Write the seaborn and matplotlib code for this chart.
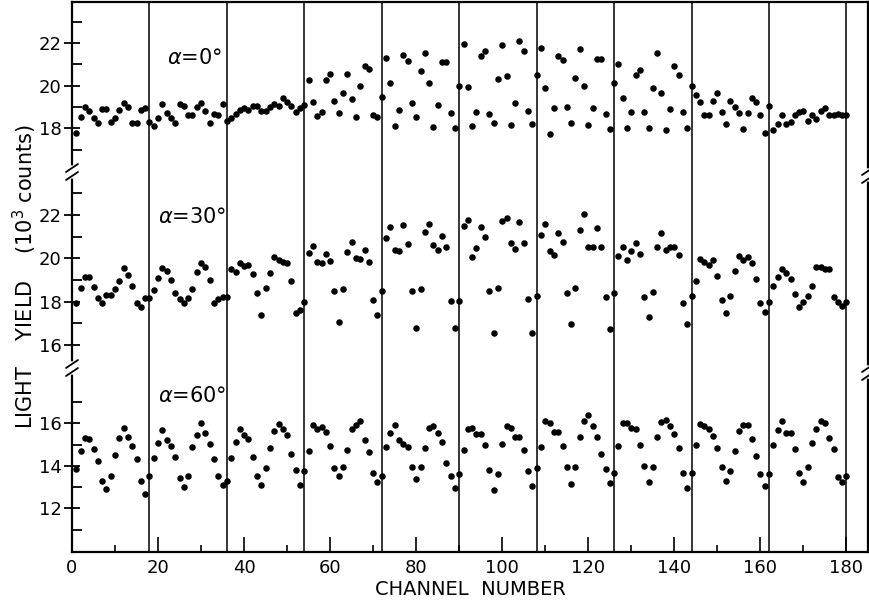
import numpy as np
import matplotlib
matplotlib.use("Agg")
import matplotlib.pyplot as plt
from matplotlib.lines import Line2D
import seaborn as sns

# light yield per channel
channels = np.arange(1, 181)

yield_a0 = [
    17.77, 18.52, 19.0, 18.8, 18.47, 18.23, 18.9, 18.9, 18.3, 18.5,
    18.86, 19.17, 19.0, 18.23, 18.23, 18.86, 18.94, 18.3, 18.1, 18.47,
    19.14, 18.73, 18.5, 18.23, 19.14, 19.05, 18.62, 18.62, 19.0, 19.2,
    18.8, 18.27, 18.65, 18.62, 19.14, 18.36, 18.5, 18.65, 18.86, 18.94,
    18.86, 19.05, 19.05, 18.8, 18.8, 19.0, 19.14, 19.05, 19.4, 19.25,
    19.05, 18.78, 18.94, 19.1, 20.27, 19.25, 18.58, 18.78, 20.27, 20.53,
    19.28, 18.7, 19.64, 20.55, 19.36, 18.55, 20.0, 20.9, 20.77, 18.62,
    18.52, 19.48, 21.3, 20.14, 18.12, 18.86, 21.44, 21.16, 19.17, 18.55,
    20.69, 21.52, 20.14, 18.08, 19.1, 21.12, 21.12, 18.73, 18.0, 19.98,
    21.94, 19.92, 18.12, 18.78, 21.39, 21.62, 18.67, 18.27, 20.3, 21.9,
    20.45, 18.16, 19.17, 22.1, 21.64, 18.83, 18.19, 20.5, 21.75, 19.88,
    17.72, 18.94, 21.4, 21.2, 19.0, 18.27, 20.34, 21.7, 19.98, 18.16,
    18.97, 21.23, 21.23, 18.67, 17.95, 20.14, 21.0, 19.44, 18.0, 18.78,
    20.5, 20.73, 18.78, 18.0, 19.9, 21.52, 19.67, 17.9, 18.9, 20.92,
    20.5, 18.78, 18.0, 19.98, 19.56, 19.25, 18.6, 18.6, 19.3, 19.67,
    18.78, 18.19, 19.28, 18.98, 18.73, 17.97, 18.7, 19.4, 19.22, 18.6,
    17.8, 19.05, 17.9, 18.2, 18.62, 18.19, 18.28, 18.6, 18.78, 18.8,
    18.36, 18.6, 18.44, 18.8, 18.94, 18.62, 18.6, 18.67, 18.6, 18.6,
]

yield_a30 = [
    17.95, 18.62, 19.12, 19.12, 18.66, 18.15, 17.95, 18.3, 18.3, 18.57,
    18.97, 19.54, 19.23, 18.72, 17.92, 17.77, 18.15, 18.15, 18.54, 19.08,
    19.54, 19.4, 19.0, 18.42, 18.1, 17.92, 18.15, 18.57, 19.38, 19.8,
    19.62, 19.0, 17.95, 18.1, 18.23, 18.23, 19.5, 19.38, 19.8, 19.65,
    19.7, 19.26, 18.38, 17.38, 18.62, 19.3, 20.08, 19.92, 19.85, 19.77,
    18.97, 17.49, 17.62, 17.97, 20.23, 20.57, 19.82, 19.8, 20.2, 19.88,
    18.49, 17.08, 18.58, 20.3, 20.74, 20.03, 19.97, 20.38, 19.82, 18.08,
    17.38, 18.49, 20.92, 21.46, 20.38, 20.35, 21.52, 20.66, 18.5, 16.8,
    18.58, 21.23, 21.6, 20.6, 20.38, 21.03, 20.5, 18.03, 16.77, 18.03,
    21.49, 21.77, 20.05, 20.49, 21.43, 21.0, 18.49, 16.57, 18.65, 21.7,
    21.88, 20.7, 20.43, 21.66, 20.72, 18.1, 16.55, 18.26, 21.08, 21.6,
    20.34, 20.15, 21.15, 20.77, 18.42, 16.95, 18.62, 21.3, 22.05, 20.5,
    20.5, 21.42, 20.5, 18.23, 16.74, 18.38, 20.1, 20.5, 19.9, 20.35,
    20.7, 20.2, 18.23, 17.3, 18.46, 20.5, 21.15, 20.38, 20.5, 20.54,
    20.15, 17.92, 16.95, 18.26, 18.97, 19.95, 19.85, 19.69, 19.92, 19.18,
    18.08, 17.49, 18.26, 19.43, 20.12, 19.92, 20.05, 19.77, 19.05, 17.92,
    17.54, 17.97, 18.72, 19.12, 19.49, 19.34, 19.05, 18.35, 17.77, 18.0,
    18.26, 18.72, 19.58, 19.6, 19.5, 19.5, 18.23, 18.0, 17.82, 17.97,
]

yield_a60 = [
    13.84, 14.72, 15.3, 15.25, 14.78, 14.24, 13.31, 12.9, 13.53, 14.52,
    15.3, 15.77, 15.35, 14.94, 14.33, 13.3, 12.68, 13.55, 14.36, 15.07,
    15.69, 15.22, 14.94, 14.44, 13.45, 13.0, 13.55, 14.88, 15.46, 16.0,
    15.54, 15.02, 14.31, 13.55, 13.1, 13.31, 14.36, 15.15, 15.74, 15.46,
    15.27, 14.44, 13.55, 13.1, 13.92, 14.83, 15.66, 15.98, 15.74, 15.46,
    14.56, 13.81, 13.1, 13.78, 14.72, 15.93, 15.73, 15.82, 15.58, 14.96,
    13.92, 13.55, 13.94, 14.75, 15.73, 15.93, 16.13, 15.22, 14.64, 13.69,
    13.26, 13.55, 14.91, 15.57, 15.93, 15.22, 15.05, 14.9, 13.97, 13.39,
    13.94, 14.86, 15.8, 15.9, 15.57, 15.11, 14.13, 13.54, 12.96, 13.62,
    14.75, 15.74, 15.8, 15.49, 15.49, 14.99, 13.81, 12.87, 13.6, 15.03,
    15.88, 15.8, 15.38, 15.35, 14.75, 13.76, 13.07, 13.92, 14.91, 16.13,
    16.03, 15.62, 15.62, 14.94, 13.97, 13.14, 13.94, 15.38, 16.13, 16.4,
    15.9, 15.35, 14.56, 13.84, 13.22, 13.69, 14.96, 16.0, 16.0, 15.77,
    15.74, 14.99, 14.0, 13.26, 13.94, 15.35, 16.09, 16.16, 15.88, 15.5,
    14.86, 13.66, 12.95, 13.66, 14.99, 15.98, 15.88, 15.73, 15.41, 14.86,
    13.94, 13.3, 13.78, 14.72, 15.65, 15.93, 15.93, 15.27, 14.49, 13.62,
    13.06, 13.61, 14.99, 15.69, 16.12, 15.54, 15.54, 14.8, 13.69, 13.26,
    13.94, 15.07, 15.73, 16.13, 16.0, 15.3, 14.8, 13.5, 13.26, 13.53,
]

panel_labels = ["$\\alpha$=0°", "$\\alpha$=30°", "$\\alpha$=60°"]
module_edges = [18, 36, 54, 72, 90, 108, 126, 144, 162, 180]

sns.set_style("white", {"text.color": "black", "axes.labelcolor": "black",
                        "xtick.color": "black", "ytick.color": "black",
                        "xtick.bottom": True, "ytick.left": True,
                        "axes.edgecolor": "black"})
plt.rcParams["font.family"] = ["DejaVu Sans"]

fig = plt.figure(figsize=(8.7, 6.05), dpi=100)
gs = fig.add_gridspec(3, 1, height_ratios=[170, 196, 184], hspace=0,
                      left=72 / 870, right=868 / 870, top=1 - 2 / 605, bottom=1 - 552 / 605)
axes = [fig.add_subplot(gs[i]) for i in range(3)]

# panel setup: series, y range, major ticks, minor ticks, label position
panels = [
    (yield_a0, (15.95, 23.92), [18, 20, 22], [17, 19, 21, 23], (22, 21.3)),
    (yield_a30, (14.94, 23.98), [16, 18, 20, 22], [17, 19, 21, 23], (20, 21.9)),
    (yield_a60, (9.95, 18.61), [12, 14, 16], [11, 13, 15, 17], (20, 17.3)),
]

for i, (ax, (vals, ylim, major, minor, lab_xy)) in enumerate(zip(axes, panels)):
    for xe in module_edges:
        ax.axvline(xe, color="black", lw=1.1, zorder=1)
    sns.scatterplot(x=channels, y=vals, ax=ax, color="black", s=22,
                    linewidth=0, zorder=3, legend=False)
    ax.set_xlim(0, 185)
    ax.set_ylim(*ylim)
    ax.set_yticks(major)
    ax.set_yticks(minor, minor=True)
    ax.tick_params(axis="y", which="major", left=True, direction="inout", length=11,
                   width=1.3, labelsize=13, pad=2)
    ax.tick_params(axis="y", which="minor", left=True, direction="in", length=7, width=1.3)
    ax.set_xticks(np.arange(0, 181, 20))
    ax.set_xticks(np.arange(10, 180, 20), minor=True)
    ax.tick_params(axis="x", which="major", bottom=True, direction="in", length=11,
                   width=1.2, labelsize=13, pad=5)
    ax.tick_params(axis="x", which="minor", bottom=True, direction="in", length=5, width=1.2)
    if i < 2:
        ax.tick_params(axis="x", which="both", bottom=False, labelbottom=False)
        ax.spines["bottom"].set_visible(False)
    if i > 0:
        ax.spines["top"].set_visible(False)
    for sp in ax.spines.values():
        sp.set_linewidth(1.6)
        sp.set_color("black")
    ax.set_xlabel("")
    ax.set_ylabel("")
    ax.text(lab_xy[0], lab_xy[1], panel_labels[i], fontsize=15, ha="left", va="center")

axes[2].set_xlabel("CHANNEL  NUMBER", fontsize=14, labelpad=2)

# axis break marks on both sides
W, H = 870.0, 605.0
for (xp, yp) in [(72, 172), (72, 368), (868, 175), (868, 372)]:
    fig.add_artist(Line2D([xp / W] * 2, [1 - (yp - 4) / H, 1 - (yp + 4) / H],
                          color="white", lw=4, transform=fig.transFigure))
    for dy in (-4, 4):
        yc = yp + dy
        fig.add_artist(Line2D([(xp - 6) / W, (xp + 6) / W],
                              [1 - (yc + 4) / H, 1 - (yc - 4) / H],
                              color="black", lw=1.3, transform=fig.transFigure))

fig.text(25 / W, 1 - 277 / H, "LIGHT    YIELD    (10$^3$ counts)", rotation=90,
         ha="center", va="center", fontsize=15)

fig.savefig("out.png", dpi=100)
